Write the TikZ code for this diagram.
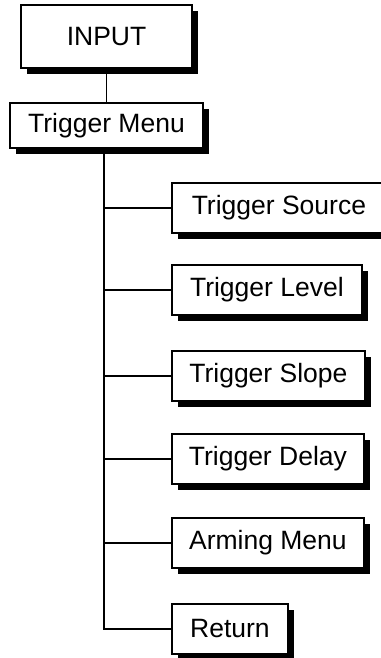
\documentclass[tikz,border=0pt]{standalone}
\usepackage{fontspec}
\setmainfont{Liberation Sans}
\usetikzlibrary{positioning,shadows}

\begin{document}
\begin{tikzpicture}[
	x=1pt, y=-1pt,
	box/.style={draw, line width=1.8pt, fill=white, minimum height=50pt, inner sep=0pt,
		font=\fontsize{26.5}{30}\selectfont,
		drop shadow={shadow xshift=6pt, shadow yshift=-6pt, fill=black, opacity=1}},
	item/.style={box, anchor=west},
	link/.style={line width=1.6pt}
]
\useasboundingbox (0,0) rectangle (380,658);

\node[box, minimum width=171pt, minimum height=63pt] (input) at (106.5,36.5) {INPUT};
\node[box, minimum width=193pt, minimum height=45pt] (menu) at (106.5,125.5) {Trigger Menu};
\coordinate (trunk) at (104,148);

\node[item, minimum width=214pt] (source) at (171,208) {Trigger Source};
\node[item, minimum width=190pt] (level) at (171,290) {Trigger Level};
\node[item, minimum width=193pt] (slope) at (171,376) {Trigger Slope};
\node[item, minimum width=192pt] (delay) at (171,459) {Trigger Delay};
\node[item, minimum width=192pt] (arming) at (171,543) {Arming Menu};
\node[item, minimum width=116pt] (ret) at (171,629) {Return};

\draw[link] (input) -- (menu);
\draw[link] (menu.south -| trunk) -- (trunk |- ret.west) -- (ret.west);
\draw[link] (trunk |- source.west) -- (source.west);
\draw[link] (trunk |- level.west) -- (level.west);
\draw[link] (trunk |- slope.west) -- (slope.west);
\draw[link] (trunk |- delay.west) -- (delay.west);
\draw[link] (trunk |- arming.west) -- (arming.west);
\end{tikzpicture}
\end{document}
